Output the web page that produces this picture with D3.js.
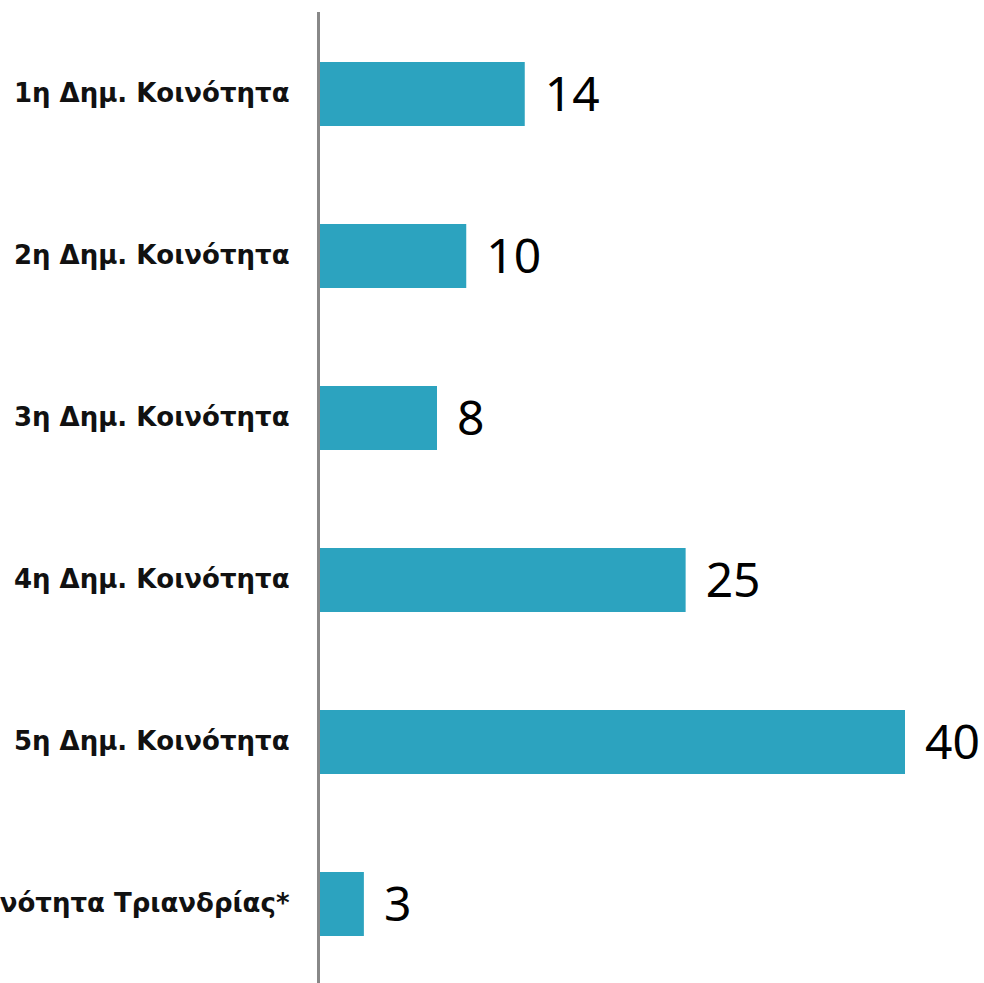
<!DOCTYPE html>
<html>
<head>
<meta charset="utf-8">
<script src="https://cdn.jsdelivr.net/npm/d3@7"></script>
<style>
  body { margin: 0; background: #fff; }
</style>
</head>
<body>
<svg id="chart" width="984" height="983"></svg>
<script>
// Categories and values
var categories = [
  "1η Δημ. Κοινότητα",
  "2η Δημ. Κοινότητα",
  "3η Δημ. Κοινότητα",
  "4η Δημ. Κοινότητα",
  "5η Δημ. Κοινότητα",
  "Κοινότητα Τριανδρίας*"
];
var values = [14, 10, 8, 25, 40, 3];

var svg = d3.select("#chart");

var x = d3.scaleLinear().domain([0, 40]).range([320, 905]);
var y = d3.scaleBand()
    .domain(categories)
    .range([13, 985])
    .paddingInner(0.605)
    .paddingOuter(0.3025);

var data = categories.map(function(c, i){ return {name: c, value: values[i]}; });

// bars
svg.append("g").selectAll("rect")
    .data(data)
  .enter().append("rect")
    .attr("x", x(0))
    .attr("y", function(d){ return y(d.name); })
    .attr("width", function(d){ return x(d.value) - x(0); })
    .attr("height", y.bandwidth())
    .attr("fill", "#2ca3bf");

// value labels
svg.append("g").selectAll("text")
    .data(data)
  .enter().append("text")
    .attr("x", function(d){ return x(d.value) + 20; })
    .attr("y", function(d){ return y(d.name) + y.bandwidth() / 2; })
    .attr("dy", "0.36em")
    .attr("font-family", "'Noto Sans', sans-serif")
    .attr("font-size", 48)
    .attr("fill", "#000")
    .text(function(d){ return d.value; });

// category axis (no ticks, just the line and labels)
var axis = svg.append("g")
    .attr("transform", "translate(318.5,0)")
    .call(d3.axisLeft(y).tickSize(0).tickPadding(29));

axis.select(".domain")
    .attr("d", "M0,12V983")
    .attr("stroke", "#888")
    .attr("stroke-width", 3);

axis.selectAll("text")
    .attr("font-family", "'DejaVu Sans', sans-serif")
    .attr("font-weight", "bold")
    .attr("font-size", 26)
    .attr("fill", "#111");
</script>
</body>
</html>
